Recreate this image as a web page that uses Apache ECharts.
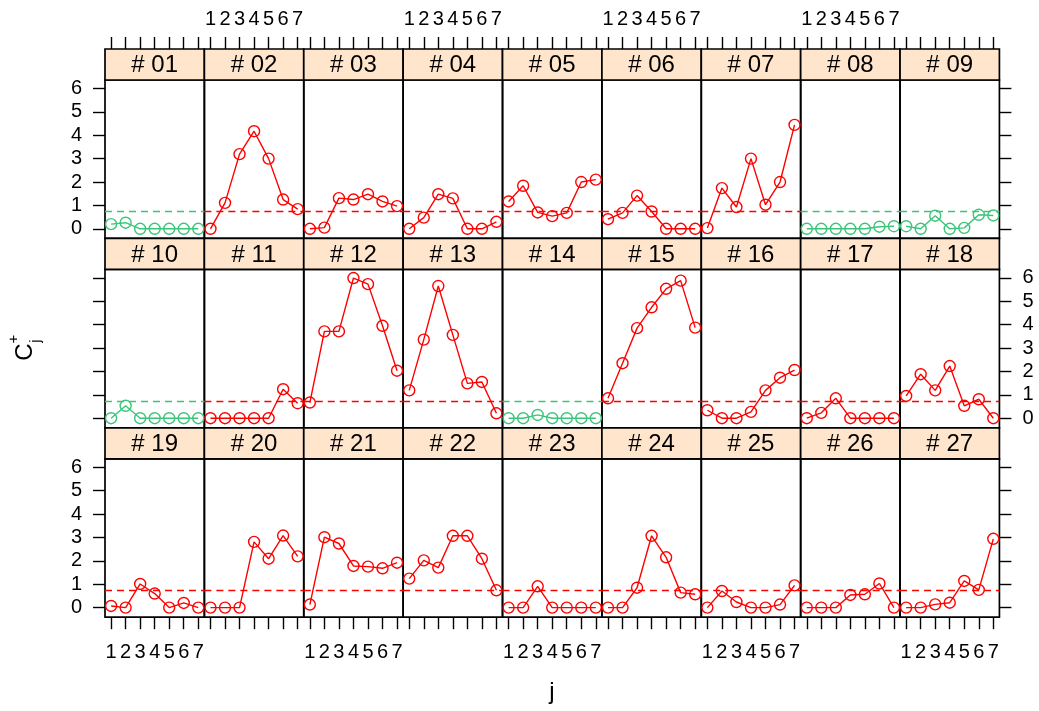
<!DOCTYPE html>
<html>
<head>
<meta charset="utf-8">
<title>CUSUM C+ by panel</title>
<script src="https://cdn.jsdelivr.net/npm/echarts@6/dist/echarts.min.js"></script>
<style>
  html, body { margin: 0; padding: 0; background: #fff; }
  #chart { width: 1039px; height: 711px; }
</style>
</head>
<body>
<div id="chart"></div>
<script>
// Panel identifiers, in display order (3 rows x 9 columns)
const panelIds = ['01','02','03','04','05','06','07','08','09',
                  '10','11','12','13','14','15','16','17','18',
                  '19','20','21','22','23','24','25','26','27'];

// Positions j along each panel
const jTicks = [1, 2, 3, 4, 5, 6, 7];
// Tick values on the C+ axis
const cTicks = [0, 1, 2, 3, 4, 5, 6];

// Upper CUSUM statistic C+_j for each panel
const cPlus = [
  [0.20, 0.26, 0.00, 0.00, 0.00, 0.00, 0.00],
  [0.00, 1.11, 3.19, 4.17, 3.00, 1.25, 0.84],
  [0.00, 0.05, 1.31, 1.25, 1.48, 1.17, 0.97],
  [0.00, 0.48, 1.48, 1.30, 0.00, 0.00, 0.30],
  [1.17, 1.84, 0.70, 0.54, 0.68, 2.00, 2.10],
  [0.41, 0.68, 1.42, 0.74, 0.00, 0.00, 0.00],
  [0.03, 1.74, 0.93, 3.00, 1.03, 2.00, 4.44],
  [0.00, 0.00, 0.00, 0.00, 0.00, 0.09, 0.11],
  [0.11, 0.00, 0.56, 0.00, 0.04, 0.60, 0.57],
  [0.00, 0.53, 0.00, 0.00, 0.00, 0.00, 0.00],
  [0.00, 0.00, 0.00, 0.00, 0.00, 1.24, 0.64],
  [0.67, 3.71, 3.71, 5.99, 5.73, 3.95, 2.03],
  [1.19, 3.36, 5.65, 3.56, 1.49, 1.55, 0.21],
  [0.00, 0.00, 0.14, 0.00, 0.00, 0.00, 0.00],
  [0.85, 2.35, 3.85, 4.74, 5.53, 5.88, 3.87],
  [0.34, 0.00, 0.00, 0.27, 1.19, 1.73, 2.06],
  [0.00, 0.23, 0.85, 0.00, 0.00, 0.00, 0.00],
  [0.95, 1.88, 1.19, 2.23, 0.53, 0.81, 0.00],
  [0.07, 0.00, 1.01, 0.60, 0.00, 0.20, 0.00],
  [0.00, 0.00, 0.00, 2.81, 2.09, 3.08, 2.19],
  [0.13, 3.01, 2.74, 1.78, 1.75, 1.68, 1.92],
  [1.24, 2.02, 1.71, 3.07, 3.07, 2.09, 0.74],
  [0.00, 0.00, 0.91, 0.00, 0.00, 0.00, 0.00],
  [0.00, 0.00, 0.85, 3.07, 2.15, 0.64, 0.57],
  [0.00, 0.71, 0.24, 0.00, 0.00, 0.13, 0.95],
  [0.00, 0.00, 0.00, 0.54, 0.57, 1.03, 0.00],
  [0.00, 0.00, 0.14, 0.21, 1.14, 0.76, 2.94]
];

// Panels whose statistic never crosses the decision limit
const inControl = ['01', '08', '09', '10', '14'];

// Decision limit drawn as a dashed reference line
const limit = 0.74;

// Colours
const colAlarm = '#FF0000';
const colOk = '#3CC57A';
const stripFill = '#FFE5CC';

// Layout of the lattice
const LEFT = 105, COLW = 99.38, TOP0 = 49, ROWH = 189.4, STRIPH = 31, PANELH = 158.4;
const NCOL = 9, NROW = 3;
const FONT = 'Liberation Sans, Arial, sans-serif';
const TICKFONT = 20;
const tickText = { fontSize: TICKFONT, fontFamily: FONT, color: '#000' };

const grids = [], xAxes = [], yAxes = [], series = [], graphics = [];

panelIds.forEach((id, i) => {
  const r = Math.floor(i / NCOL), c = i % NCOL;
  const x0 = LEFT + c * COLW;
  const yStrip = TOP0 + r * ROWH;
  const col = inControl.includes(id) ? colOk : colAlarm;

  grids.push({
    left: x0, top: yStrip + STRIPH, width: COLW, height: PANELH,
    show: true, borderColor: '#000', borderWidth: 1.7, backgroundColor: 'transparent'
  });

  const xLabelShown = (r === 0 && c % 2 === 1) || (r === NROW - 1 && c % 2 === 0);
  xAxes.push({
    gridIndex: i, type: 'value', min: 0.58, max: 7.42,
    show: r !== 1,
    position: r === 0 ? 'top' : 'bottom',
    offset: r === 0 ? STRIPH : 0,
    axisLine: { show: false, onZero: false },
    axisTick: { show: true, inside: false, length: 12, customValues: jTicks,
                lineStyle: { color: '#000', width: 1.4 } },
    axisLabel: { show: xLabelShown, customValues: jTicks, margin: r === 0 ? 20 : 25,
                 formatter: v => '{t|' + Math.round(v) + '}',
                 rich: { t: tickText } },
    splitLine: { show: false }
  });

  const yLabelShown = (c === 0 && r !== 1) || (c === NCOL - 1 && r === 1);
  yAxes.push({
    gridIndex: i, type: 'value', min: -0.41, max: 6.36,
    show: c === 0 || c === NCOL - 1,
    position: c === 0 ? 'left' : 'right',
    axisLine: { show: false, onZero: false },
    axisTick: { show: true, inside: false, length: 12, customValues: cTicks,
                lineStyle: { color: '#000', width: 1.4 } },
    axisLabel: { show: yLabelShown, customValues: cTicks, margin: 23,
                 formatter: v => '{t|' + Math.round(v) + '}',
                 rich: { t: tickText } },
    splitLine: { show: false }
  });

  series.push({
    type: 'line',
    xAxisIndex: i, yAxisIndex: i,
    data: cPlus[i].map((v, k) => [jTicks[k], v]),
    symbol: 'circle', symbolSize: 11, showAllSymbol: true,
    clip: false,
    itemStyle: { color: 'rgba(0,0,0,0)', borderColor: col, borderWidth: 1.4 },
    lineStyle: { color: col, width: 1.4 },
    emphasis: { disabled: true },
    silent: true,
    markLine: {
      silent: true, symbol: 'none',
      label: { show: false },
      lineStyle: { color: col, type: [7, 5], width: 1.3 },
      data: [{ yAxis: limit }]
    }
  });

  // strip with the panel id
  graphics.push({
    type: 'rect',
    shape: { x: x0, y: yStrip, width: COLW, height: STRIPH },
    style: { fill: stripFill, stroke: '#000', lineWidth: 1.7 },
    z: 10
  });
  graphics.push({
    type: 'text',
    x: x0 + COLW / 2, y: yStrip + STRIPH / 2 + 1,
    style: { text: '# ' + id, fill: '#000', font: '24px ' + FONT,
             align: 'center', verticalAlign: 'middle' },
    z: 11
  });
});

// Axis titles: "j" below, C+_j on the left (rotated)
graphics.push({
  type: 'text', x: 552, y: 692,
  style: { text: 'j', fill: '#000', font: '24px ' + FONT, align: 'center', verticalAlign: 'middle' }
});
graphics.push({
  type: 'text', x: 25, y: 352, rotation: Math.PI / 2,
  style: { text: 'C', fill: '#000', font: '24px ' + FONT, align: 'center', verticalAlign: 'middle' }
});
graphics.push({
  type: 'text', x: 14, y: 339, rotation: Math.PI / 2,
  style: { text: '+', fill: '#000', font: '15px ' + FONT, align: 'center', verticalAlign: 'middle' }
});
graphics.push({
  type: 'text', x: 36, y: 341, rotation: Math.PI / 2,
  style: { text: 'j', fill: '#000', font: '15px ' + FONT, align: 'center', verticalAlign: 'middle' }
});

const chart = echarts.init(document.getElementById('chart'), null, { renderer: 'canvas' });
chart.setOption({
  animation: false,
  backgroundColor: '#fff',
  textStyle: { fontFamily: FONT },
  grid: grids,
  xAxis: xAxes,
  yAxis: yAxes,
  series: series,
  graphic: { elements: graphics }
});
</script>
</body>
</html>
